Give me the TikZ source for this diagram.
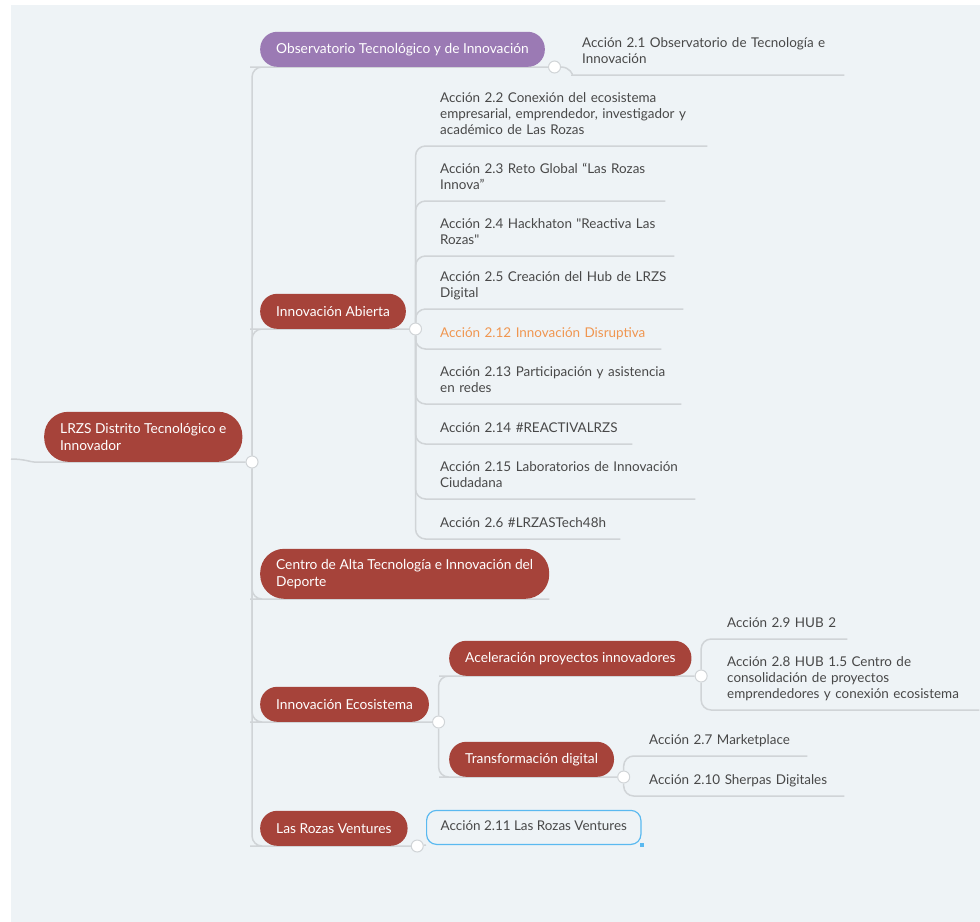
\documentclass[tikz,border=0pt]{standalone}
\usepackage{fontspec}
\setmainfont{Lato}
\usetikzlibrary{positioning}
\pgfdeclarelayer{back}
\pgfsetlayers{back,main}
\definecolor{sheet}{RGB}{238,243,246}
\definecolor{brick}{RGB}{166,67,58}
\definecolor{lilac}{RGB}{155,122,180}
\definecolor{twiggrey}{RGB}{208,212,215}
\definecolor{ink}{RGB}{72,72,72}
\definecolor{flame}{RGB}{240,150,80}
\definecolor{sky}{RGB}{90,185,240}
\tikzset{pill/.style={anchor=south west,fill=brick,text=white,rounded corners=17bp,minimum height=35bp,inner xsep=16bp,inner ysep=4bp,align=left,font=\fontsize{13.8}{17}\selectfont}}
\tikzset{twoline/.style={pill,rounded corners=24bp,minimum height=50bp}}
\tikzset{act/.style={anchor=south west,text=ink,align=left,inner xsep=0pt,inner ysep=7bp,execute at end node=\strut,font=\fontsize{13.5}{16}\selectfont}}
\tikzset{pick/.style={act,draw=sky,line width=1.2bp,rounded corners=10bp,inner xsep=14bp,inner ysep=4bp,minimum height=34bp}}
\tikzset{knob/.style={circle,draw=twiggrey,fill=white,line width=1bp,minimum size=12bp,inner sep=0pt}}
\tikzset{twig/.style={draw=twiggrey,line width=1.5bp,rounded corners=10bp}}

\begin{document}
\begin{tikzpicture}[x=1bp,y=-1bp]
        \useasboundingbox (0,0) rectangle (980,922);
        \coordinate(rim) at (11,459);
        \node(root)[twoline] at (44,462){LRZS Distrito Tecnológico e\\Innovador};
        \node(kr)[knob,right=3bp of root.south east]{};
        \node(obs)[pill,fill=lilac] at (260,67){Observatorio Tecnológico y de Innovación};
        \node(kobs)[knob,right=3bp of obs.south east]{};
        \node(a21)[act,text width=262bp] at (582,75){Acción 2.1 Observatorio de Tecnología e\\Innovación};
        \node(ia)[pill] at (260,329){Innovación Abierta};
        \node(kia)[knob,right=3bp of ia.south east]{};
        \node(a22)[act,text width=267bp] at (440,146){Acción 2.2 Conexión del ecosistema\\empresarial, emprendedor, investigador y\\académico de Las Rozas};
        \node(a23)[act,text width=225bp] at (440,201){Acción 2.3 Reto Global “Las Rozas\\Innova”};
        \node(a24)[act,text width=234bp] at (440,256){Acción 2.4 Hackhaton \textquotedbl Reactiva Las\\Rozas\textquotedbl};
        \node(a25)[act,text width=243bp] at (440,309){Acción 2.5 Creación del Hub de LRZS\\Digital};
        \node(a212)[act,text=flame,text width=221bp] at (440,349){Acción 2.12 Innovación Disruptiva};
        \node(a213)[act,text width=241bp] at (440,404){Acción 2.13 Participación y asistencia\\en redes};
        \node(a214)[act,text width=192bp] at (440,444){Acción 2.14 \#REACTIVALRZS};
        \node(a215)[act,text width=255bp] at (440,499){Acción 2.15 Laboratorios de Innovación\\Ciudadana};
        \node(a26)[act,text width=180bp] at (440,539){Acción 2.6 \#LRZASTech48h};
        \node(centro)[twoline] at (260,599){Centro de Alta Tecnología e Innovación del\\Deporte};
        \node(ie)[pill] at (260,722){Innovación Ecosistema};
        \node(kie)[knob,right=3bp of ie.south east]{};
        \node(ace)[pill] at (449,676){Aceleración proyectos innovadores};
        \node(kace)[knob,right=3bp of ace.south east]{};
        \node(a29)[act,text width=120bp] at (727,639){Acción 2.9 HUB 2};
        \node(a28)[act,text width=252bp] at (727,710){Acción 2.8 HUB 1.5 Centro de\\consolidación de proyectos\\emprendedores y conexión ecosistema};
        \node(td)[pill] at (449,777){Transformación digital};
        \node(ktd)[knob,right=3bp of td.south east]{};
        \node(a27)[act,text width=158bp] at (649,756){Acción 2.7 Marketplace};
        \node(a210)[act,text width=195bp] at (649,796){Acción 2.10 Sherpas Digitales};
        \node(rv)[pill] at (260,846){Las Rozas Ventures};
        \node(krv)[knob,right=3bp of rv.south east]{};
        \node(a211)[pick] at (426,845){Acción 2.11 Las Rozas Ventures};
        \node(grip)[fill=sky,minimum size=4bp,inner sep=0pt] at (a211.south east){};
        \begin{pgfonlayer}{back}
        \fill[sheet] (11,5) rectangle (980,922);
        \draw[twig] (rim) to[out=0,in=180] (root.south west) -- (kr);
        \draw[twig] (kr) |- (obs.south west) -- (kobs);
        \draw[twig] (kr) |- (ia.south west) -- (kia);
        \draw[twig] (kr) |- (centro.south west) -- (centro.south east);
        \draw[twig] (kr) |- (ie.south west) -- (kie);
        \draw[twig] (kr) |- (rv.south west) -- (krv);
        \draw[twig] (kobs) to[out=0,in=180] (a21.south west) -- (a21.south east);
        \foreach \leaf in {a22,a23,a24,a25,a212,a213,a214,a215,a26}
          \draw[twig] (kia) |- (\leaf.south west) -- (\leaf.south east);
        \draw[twig] (kie) |- (ace.south west) -- (kace);
        \draw[twig] (kie) |- (td.south west) -- (ktd);
        \foreach \leaf in {a29,a28}
          \draw[twig] (kace) |- (\leaf.south west) -- (\leaf.south east);
        \foreach \leaf in {a27,a210}
          \draw[twig] (ktd) |- (\leaf.south west) -- (\leaf.south east);
        \draw[twig] (krv) -- (a211.south west);
        \end{pgfonlayer}
\end{tikzpicture}
\end{document}
